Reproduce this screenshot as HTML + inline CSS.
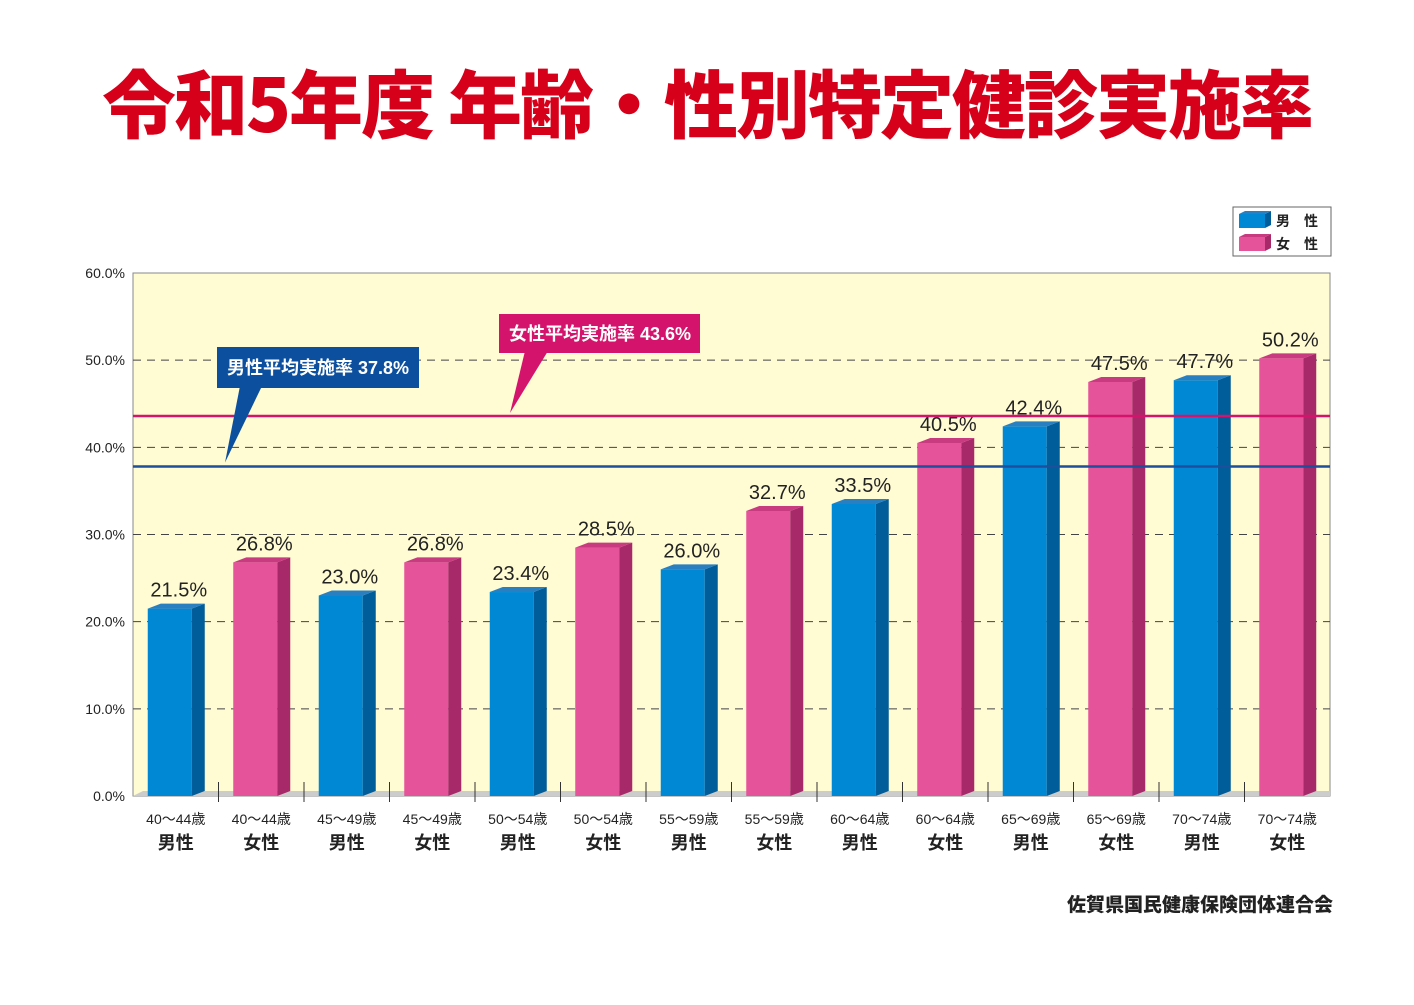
<!DOCTYPE html>
<html><head><meta charset="utf-8"><style>
body{margin:0;background:#fff;width:1414px;height:1000px;overflow:hidden;font-family:"Liberation Sans","Noto Sans CJK JP",sans-serif}
</style></head><body>
<svg width="1414" height="1000" id="svg" font-family="Liberation Sans, Noto Sans CJK JP, sans-serif">
<text x="707" y="132" text-anchor="middle" font-size="74" font-weight="900" fill="#d7001a" font-family="Noto Sans CJK JP, sans-serif" letter-spacing="-2">令和5年度 年齢・性別特定健診実施率</text>
<g>
<rect x="1233" y="207" width="98" height="49" fill="#fff" stroke="#666"/>
<rect x="1239" y="214" width="26" height="14" fill="#0088d4"/><polygon points="1265,214 1271,211 1271,225 1265,228" fill="#005d99"/><polygon points="1239,214 1245,211 1271,211 1265,214" fill="#2a7fc0"/>
<text x="1276" y="226" font-size="14" font-weight="bold" fill="#222">男　性</text>
<rect x="1239" y="237" width="26" height="14" fill="#e5539a"/><polygon points="1265,237 1271,234 1271,248 1265,251" fill="#a8296a"/><polygon points="1239,237 1245,234 1271,234 1265,237" fill="#c83b80"/>
<text x="1276" y="249" font-size="14" font-weight="bold" fill="#222">女　性</text>
</g>
<rect x="133" y="273" width="1197" height="523" fill="#fffbd3" stroke="#888"/>
<g id="grid"></g><g id="bars"></g><g id="avg"></g>
<text x="1333" y="911" text-anchor="end" font-size="19" font-weight="900" fill="#222" font-family="Noto Sans CJK JP, sans-serif">佐賀県国民健康保険団体連合会</text>
</svg>
<script>
const ageLabels=["40～44歳","40～44歳","45～49歳","45～49歳","50～54歳","50～54歳","55～59歳","55～59歳","60～64歳","60～64歳","65～69歳","65～69歳","70～74歳","70～74歳"];
const sexLabels=["男性","女性","男性","女性","男性","女性","男性","女性","男性","女性","男性","女性","男性","女性"];
const values=[21.5,26.8,23.0,26.8,23.4,28.5,26.0,32.7,33.5,40.5,42.4,47.5,47.7,50.2];
const yTicks=[0,10,20,30,40,50,60];
const maleAvg=37.8, femaleAvg=43.6;
const NS="http://www.w3.org/2000/svg";
const X0=133,X1=1330,Y0=796,Y1=273;
const y=v=>Y0-(v/60)*(Y0-Y1);
const slot=(X1-X0)/values.length;
const cx=i=>X0+slot*(i+0.5);
function mk(t,a,p){const e=document.createElementNS(NS,t);for(const k in a)e.setAttribute(k,a[k]);(p||document.getElementById('svg')).appendChild(e);return e;}
const grid=document.getElementById('grid'),bars=document.getElementById('bars'),avg=document.getElementById('avg');
yTicks.forEach(t=>{
 if(t>0&&t<60){const l=mk('line',{x1:X0,x2:X1,y1:y(t),y2:y(t),stroke:'#444','stroke-dasharray':'8,6','stroke-width':1},grid);}
 const tx=mk('text',{x:125,y:y(t)+5,'text-anchor':'end','font-size':14,fill:'#222'},grid);tx.textContent=t.toFixed(1)+'%';
 
});
mk('polygon',{points:`${X0},${Y0} ${X0+10},${Y0-5} ${X1},${Y0-5} ${X1},${Y0}`,fill:'#ccc'},grid);
for(let i=1;i<values.length;i++){mk('line',{x1:X0+slot*i,x2:X0+slot*i,y1:Y0-14,y2:Y0+6,stroke:'#333'},grid);}
values.forEach((v,i)=>{
 const male=i%2==0;const front=male?'#0088d4':'#e5539a',side=male?'#005d99':'#a8296a',top=male?'#2a7fc0':'#c83b80';
 const fx=cx(i)-28,w=44,d=13,o=5,yt=y(v);
 const g=mk('g',{},bars);
 mk('rect',{x:fx,y:yt,width:w,height:Y0-yt,fill:front},g);
 mk('polygon',{points:`${fx+w},${yt} ${fx+w+d},${yt-o} ${fx+w+d},${Y0-o} ${fx+w},${Y0}`,fill:side},g);
 mk('polygon',{points:`${fx},${yt} ${fx+d},${yt-o} ${fx+w+d},${yt-o} ${fx+w},${yt}`,fill:top},g);
 const lb=mk('text',{x:cx(i)+3,y:yt-12,'text-anchor':'middle','font-size':20,fill:'#222'},bars);lb.textContent=v.toFixed(1)+'%';
 
 const a=mk('text',{x:cx(i),y:824,'text-anchor':'middle','font-size':14,fill:'#222'},bars);a.textContent=ageLabels[i];
 
 const s=mk('text',{x:cx(i),y:849,'text-anchor':'middle','font-size':18,'font-weight':'bold',fill:'#222'},bars);s.textContent=sexLabels[i];
 
});
const ml=mk('line',{x1:X0,x2:X1,y1:y(maleAvg),y2:y(maleAvg),stroke:'#1d4f9c','stroke-width':2.5},avg);

const fl=mk('line',{x1:X0,x2:X1,y1:y(femaleAvg),y2:y(femaleAvg),stroke:'#d4146c','stroke-width':2.5},avg);

const mc=mk('g',{},avg);
mk('rect',{x:217,y:347,width:202,height:41,fill:'#0b4f9e'},mc);
mk('polygon',{points:`240,386 262,386 ${225},${y(maleAvg)-4}`,fill:'#0b4f9e'},mc);
const mt=mk('text',{x:318,y:374,'text-anchor':'middle','font-size':18,'font-weight':'bold',fill:'#fff'},mc);mt.textContent='男性平均実施率 '+maleAvg.toFixed(1)+'%';
const fc=mk('g',{},avg);
mk('rect',{x:499,y:314,width:201,height:39,fill:'#d4146c'},fc);
mk('polygon',{points:`525,351 548,351 ${510},${y(femaleAvg)-3}`,fill:'#d4146c'},fc);
const ft=mk('text',{x:600,y:340,'text-anchor':'middle','font-size':18,'font-weight':'bold',fill:'#fff'},fc);ft.textContent='女性平均実施率 '+femaleAvg.toFixed(1)+'%';
</script>
</body></html>
